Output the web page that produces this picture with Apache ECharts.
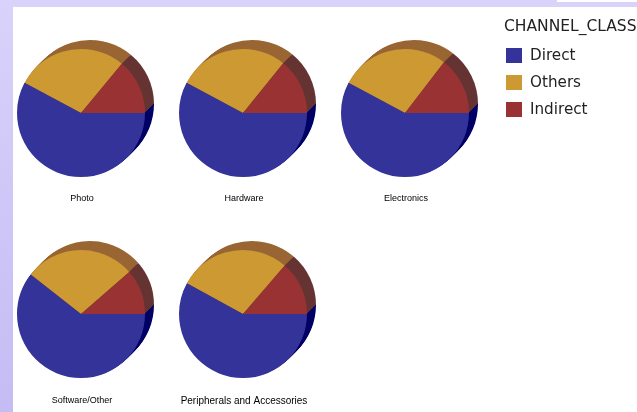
<!DOCTYPE html>
<html><head><meta charset="utf-8">
<style>html,body{margin:0;padding:0;background:#fff}#c{width:637px;height:412px}</style>
<script src="https://cdn.jsdelivr.net/npm/echarts@6/dist/echarts.min.js"></script></head>
<body><div id="c"></div>
<script>
const categories = ['Photo','Hardware','Electronics','Software/Other','Peripherals and Accessories'];
const seriesNames = ['Direct','Others','Indirect'];
const direct   = [57.8,57.8,57.8,60.6,58.0];
const others   = [28.2,28.0,27.6,28.0,28.3];
const indirect = [14.0,14.2,14.6,11.4,13.7];
const frontColors = ['#333399','#cc9933','#993333'];
const backColors  = ['#000066','#996633','#663333'];
const centers = [[81,113],[243,113],[405,113],[81,314],[243,314]];
const labelY = [199,199,199,401,401];
const R = 64, DEPTH = 9;
const chart = echarts.init(document.getElementById('c'),null,{renderer:'canvas'});
const dataFor = (i,cols)=>[direct[i],others[i],indirect[i]].map((v,k)=>({name:seriesNames[k],value:v,itemStyle:{color:cols[k]}}));
const series = [];
categories.forEach((c,i)=>{
  const common = {type:'pie',radius:[0,R],startAngle:0,clockwise:true,silent:true,label:{show:false},labelLine:{show:false},animation:false};
  for(let d=DEPTH;d>=1;d--){
    series.push({...common,name:c+' depth '+d,z:2,center:[centers[i][0]+d,centers[i][1]-d],data:dataFor(i,backColors)});
  }
  series.push({...common,name:c,z:3,center:centers[i],data:dataFor(i,frontColors)});
});
chart.setOption({
  animation:false,
  backgroundColor:'#fff',
  legend:{show:false},
  graphic:[
    {type:'rect',z:0,silent:true,shape:{x:0,y:0,width:13,height:412},style:{fill:new echarts.graphic.LinearGradient(0,0,0,1,[{offset:0,color:'#d9d2fa'},{offset:1,color:'#c4bcf4'}])}},
    {type:'rect',z:0,silent:true,shape:{x:0,y:0,width:637,height:7},style:{fill:'#d9d2fa'}},
    {type:'rect',z:1,silent:true,shape:{x:557,y:0,width:80,height:2},style:{fill:'#fff'}},
    ...categories.map((c,i)=>({type:'text',z:5,silent:true,style:{text:c,x:centers[i][0]+1,y:labelY[i],align:'center',verticalAlign:'middle',fontSize:i===4?10:9,fontFamily:'Liberation Sans',fill:'#000'}})),
    {type:'text',z:5,silent:true,style:{text:'CHANNEL_CLASS',x:504,y:27,fontSize:15.5,fontFamily:'DejaVu Sans',fill:'#222',verticalAlign:'middle'}},
    ...seriesNames.flatMap((n,k)=>[
      {type:'rect',z:5,silent:true,shape:{x:506,y:48+k*27,width:16,height:15},style:{fill:frontColors[k]}},
      {type:'text',z:5,silent:true,style:{text:n,x:530,y:56+k*27,fontSize:15.2,fontFamily:'DejaVu Sans',fill:'#222',verticalAlign:'middle'}}
    ])
  ],
  series
});
</script></body></html>
